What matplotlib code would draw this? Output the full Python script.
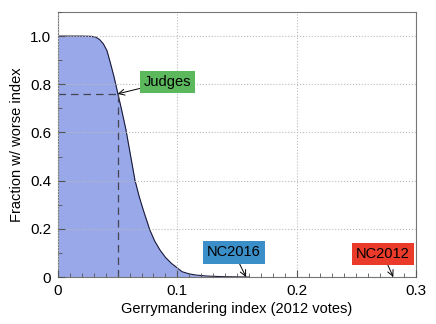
import matplotlib
matplotlib.use("Agg")
import matplotlib.pyplot as plt
from matplotlib.ticker import MultipleLocator

plt.rcParams['font.family'] = ['Liberation Sans', 'DejaVu Sans']

# survival curve
gerry_x = [0.0, 0.01, 0.02, 0.028, 0.032, 0.035, 0.038, 0.041, 0.044, 0.047, 0.050,
           0.0535, 0.057, 0.060, 0.0645, 0.068, 0.0715, 0.077, 0.081, 0.0855,
           0.090, 0.095, 0.104, 0.110, 0.116, 0.125, 0.135, 0.145, 0.160, 0.300]
frac_y = [1.0, 1.0, 1.0, 0.999, 0.995, 0.985, 0.968, 0.94, 0.887, 0.83, 0.765,
          0.69, 0.61, 0.527, 0.402, 0.335, 0.278, 0.195, 0.15, 0.112,
          0.082, 0.057, 0.022, 0.013, 0.008, 0.004, 0.002, 0.001, 0.0, 0.0]

judges = (0.05, 0.76)
labels = ["Judges", "NC2016", "NC2012"]
targets = [(0.05, 0.76), (0.1576, 0.0), (0.281, 0.0)]
label_pos = [(0.0918, 0.811), (0.1475, 0.102), (0.2723, 0.095)]
label_colors = ["#5cb85c", "#3b8fc8", "#ea3a2a"]

fig = plt.figure(figsize=(4.36, 3.24), dpi=100)
ax = fig.add_axes([0.133, 0.145, 0.821, 0.818])

ax.fill_between(gerry_x, frac_y, 0, color="#98a8e8", lw=0)
ax.plot(gerry_x[:-1], frac_y[:-1], color="#1a1a3a", lw=0.8)

ax.plot([0, judges[0]], [judges[1], judges[1]], ls=(0, (6, 4)), color="#444455", lw=0.9)
ax.plot([judges[0], judges[0]], [0, judges[1]], ls=(0, (6, 4)), color="#444455", lw=0.9)

for lab, tgt, pos, col in zip(labels, targets, label_pos, label_colors):
    ax.annotate(lab, xy=tgt, xytext=pos, ha="center", va="center", fontsize=10.5,
                bbox=dict(boxstyle="square,pad=0.28", fc=col, ec="none"),
                arrowprops=dict(arrowstyle="->", color="black", lw=0.7,
                                shrinkA=0, shrinkB=0))

ax.set_xlim(0, 0.3)
ax.set_ylim(0, 1.1)
ax.set_xticks([0, 0.1, 0.2, 0.3])
ax.set_xticklabels(["0", "0.1", "0.2", "0.3"])
ax.set_yticks([0, 0.2, 0.4, 0.6, 0.8, 1.0])
ax.set_yticklabels(["0", "0.2", "0.4", "0.6", "0.8", "1.0"])
ax.xaxis.set_minor_locator(MultipleLocator(0.01))
ax.yaxis.set_minor_locator(MultipleLocator(0.1))
ax.tick_params(which="both", direction="in", color="#555555", labelsize=11)
ax.tick_params(which="major", length=5, pad=5)
ax.tick_params(which="minor", length=3)
ax.grid(True, which="major", ls=":", color="#bbbbbb", lw=0.8)
ax.set_axisbelow(False)
for s in ax.spines.values():
    s.set_color("#777777")

ax.set_xlabel("Gerrymandering index (2012 votes)", fontsize=10.5, labelpad=3)
ax.set_ylabel("Fraction w/ worse index", fontsize=10.5, labelpad=4)

fig.savefig("out.png", dpi=100)
